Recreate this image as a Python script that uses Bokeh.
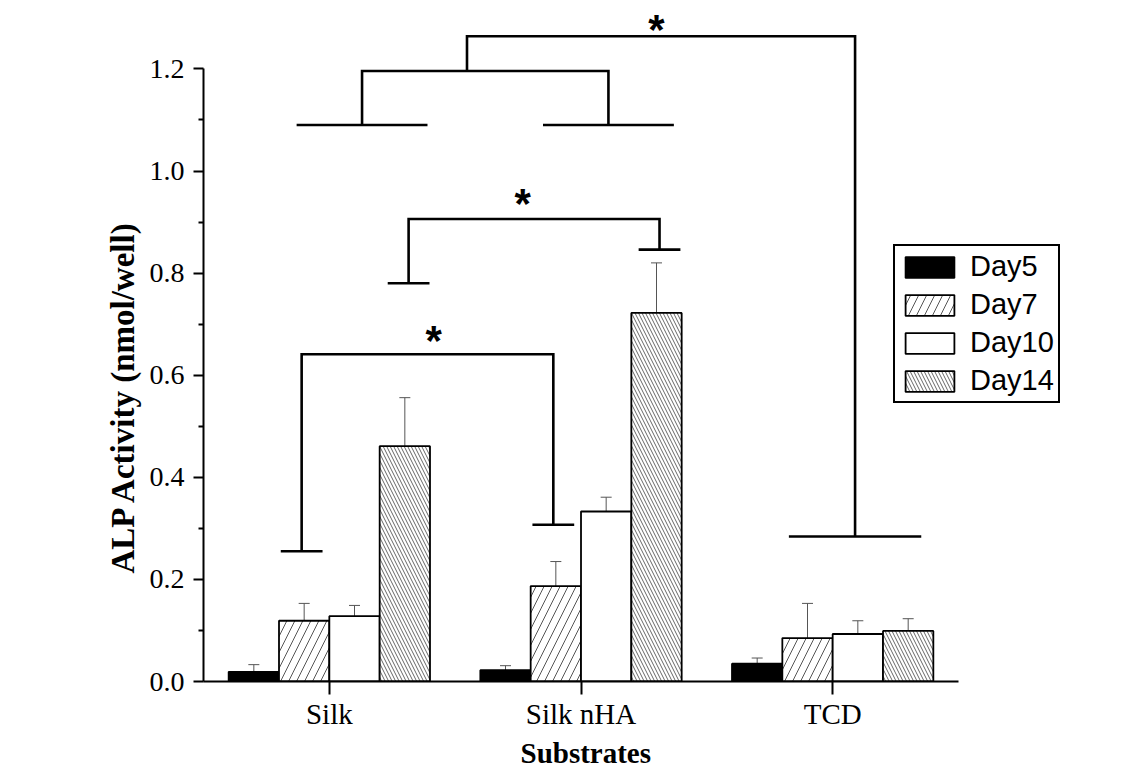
from bokeh.plotting import figure
from bokeh.models import (FixedTicker, PrintfTickFormatter, Whisker, Title,
                          TeeHead, ColumnDataSource, Legend, LegendItem, Range1d)
from bokeh.core.properties import value
from bokeh.embed import file_html
from bokeh.resources import INLINE

# ---------------- data ----------------
categories = ["Silk", "Silk nHA", "TCD"]
days = ["Day5", "Day7", "Day10", "Day14"]

day5_mean = [0.019, 0.022, 0.035]
day7_mean = [0.119, 0.187, 0.085]
day10_mean = [0.128, 0.333, 0.093]
day14_mean = [0.461, 0.722, 0.099]

day5_err = [0.014, 0.009, 0.011]
day7_err = [0.034, 0.048, 0.068]
day10_err = [0.021, 0.028, 0.026]
day14_err = [0.095, 0.098, 0.024]

# significance brackets (x in category units, y in data units)
br_x0 = [0.89, 1.315, 1.13, 1.547]
br_x1 = [1.89, 2.312, 2.109, 3.089]
br_y0 = [0.255, 0.780, 1.090, 1.196]
br_y1 = [0.307, 0.846, 1.090, 0.284]
br_top = [0.641, 0.906, 1.196, 1.264]
br_hw0 = [0.083, 0.083, 0.26, 0.0]
br_hw1 = [0.083, 0.083, 0.26, 0.263]

star_x = [1.415, 1.768, 2.30]
star_y = [0.679, 0.948, 1.288]
star_text = ["*", "*", "*"]

y_major_ticks = [0.0, 0.2, 0.4, 0.6, 0.8, 1.0, 1.2]
y_minor_ticks = [0.1, 0.3, 0.5, 0.7, 0.9, 1.1]
y_title = "ALP Activity (nmol/well)"
x_title = "Substrates"

# ---------------- figure ----------------
p = figure(frame_width=867, frame_height=679,
           x_range=Range1d(0.5, 3.945), y_range=Range1d(0, 679 / 510.5),
           output_backend="svg", toolbar_location=None,
           min_border_left=203, min_border_top=2, min_border_right=8, min_border_bottom=20)
p.grid.visible = False
p.outline_line_color = None
p.background_fill_color = "white"

means = [day5_mean, day7_mean, day10_mean, day14_mean]
errs = [day5_err, day7_err, day10_err, day14_err]
styles = [
    dict(fill_color="black", hatch_pattern=None),
    dict(fill_color="white", hatch_pattern="right_diagonal_line", hatch_color="#555555",
         hatch_scale=16, hatch_weight=1),
    dict(fill_color="white", hatch_pattern=None),
    dict(fill_color="white", hatch_pattern="left_diagonal_line", hatch_color="#666666",
         hatch_scale=7, hatch_weight=1),
]
bar_w = 0.2
renderers = []
for i, (d, m, e, st) in enumerate(zip(days, means, errs, styles)):
    off = (i - 1.5) * bar_w
    xs = [k + 1 + off for k in range(len(categories))]
    src = ColumnDataSource(dict(x=xs, top=m,
                                upper=[a + b for a, b in zip(m, e)],
                                lower=[a - b for a, b in zip(m, e)]))
    kw = {k: v for k, v in st.items() if v is not None}
    r = p.vbar(x="x", top="top", bottom=0, width=bar_w, source=src,
               line_color="black", line_width=1.8, **kw)
    renderers.append(r)
    wh = Whisker(base="x", upper="upper", lower="lower", source=src,
                 line_color="#555555", line_width=1,
                 upper_head=TeeHead(size=11, line_color="#555555", line_width=1),
                 lower_head=TeeHead(size=11, line_color="#555555", line_width=1))
    p.add_layout(wh)

# brackets
bxs, bys = [], []
for x0, x1, y0, y1, top, h0, h1 in zip(br_x0, br_x1, br_y0, br_y1, br_top, br_hw0, br_hw1):
    bxs.append([x0, x0, x1, x1]); bys.append([y0, top, top, y1])
    if h0 > 0:
        bxs.append([x0 - h0, x0 + h0]); bys.append([y0, y0])
    if h1 > 0:
        bxs.append([x1 - h1, x1 + h1]); bys.append([y1, y1])
p.multi_line(xs=bxs, ys=bys, line_color="black", line_width=2.6, line_join="miter")

p.text(x=star_x, y=star_y, text=star_text, text_font=value("Liberation Sans"),
       text_font_style="bold", text_font_size="42px", text_align="center",
       text_baseline="middle", text_color="black", y_offset=6)

# axes
xa = p.xaxis[0]
xa.ticker = FixedTicker(ticks=[1, 2, 3])
xa.major_label_overrides = {1: categories[0], 2: categories[1], 3: categories[2]}
xa.bounds = (0.5, 3.5)
xa.axis_line_width = 2
xa.major_tick_line_width = 2
xa.major_tick_in = 0
xa.major_tick_out = 13
xa.minor_tick_line_color = None
xa.major_label_text_font = "Liberation Serif"
xa.major_label_text_font_size = "29px"
xa.major_label_text_color = "black"
xa.major_label_standoff = 3

ya = p.yaxis[0]
ya.ticker = FixedTicker(ticks=y_major_ticks, minor_ticks=y_minor_ticks)
ya.formatter = PrintfTickFormatter(format="%.1f")
ya.bounds = (0, 1.2)
ya.axis_line_width = 2
ya.major_tick_line_width = 2
ya.minor_tick_line_width = 2
ya.major_tick_in = 0
ya.major_tick_out = 10
ya.minor_tick_in = 0
ya.minor_tick_out = 5
ya.major_label_text_font = "Liberation Serif"
ya.major_label_text_font_size = "28px"
ya.major_label_text_color = "black"
ya.major_label_standoff = 9

# axis titles, placed as in the reference (centred under the axis spans)
p.add_layout(Title(text=x_title, align="left", offset=317, standoff=4,
                   text_font="Liberation Serif", text_font_style="bold",
                   text_font_size="29px", text_color="black"), "below")
p.add_layout(Title(text=y_title, align="left", offset=108, standoff=11,
                   text_font="Liberation Serif", text_font_style="bold",
                   text_font_size="33px", text_color="black"), "left")

legend = Legend(items=[LegendItem(label=d, renderers=[r]) for d, r in zip(days, renderers)],
                location=(690, 278))
legend.glyph_width = 61
legend.glyph_height = 26
legend.label_text_font = "Liberation Sans"
legend.label_text_font_size = "29px"
legend.label_text_color = "black"
legend.label_standoff = 10
legend.spacing = 5
legend.padding = 4
legend.margin = 0
legend.border_line_color = "black"
legend.border_line_alpha = 1
legend.border_line_width = 2
legend.background_fill_alpha = 1
p.add_layout(legend)

open("out.html", "w").write(file_html(p, INLINE))
